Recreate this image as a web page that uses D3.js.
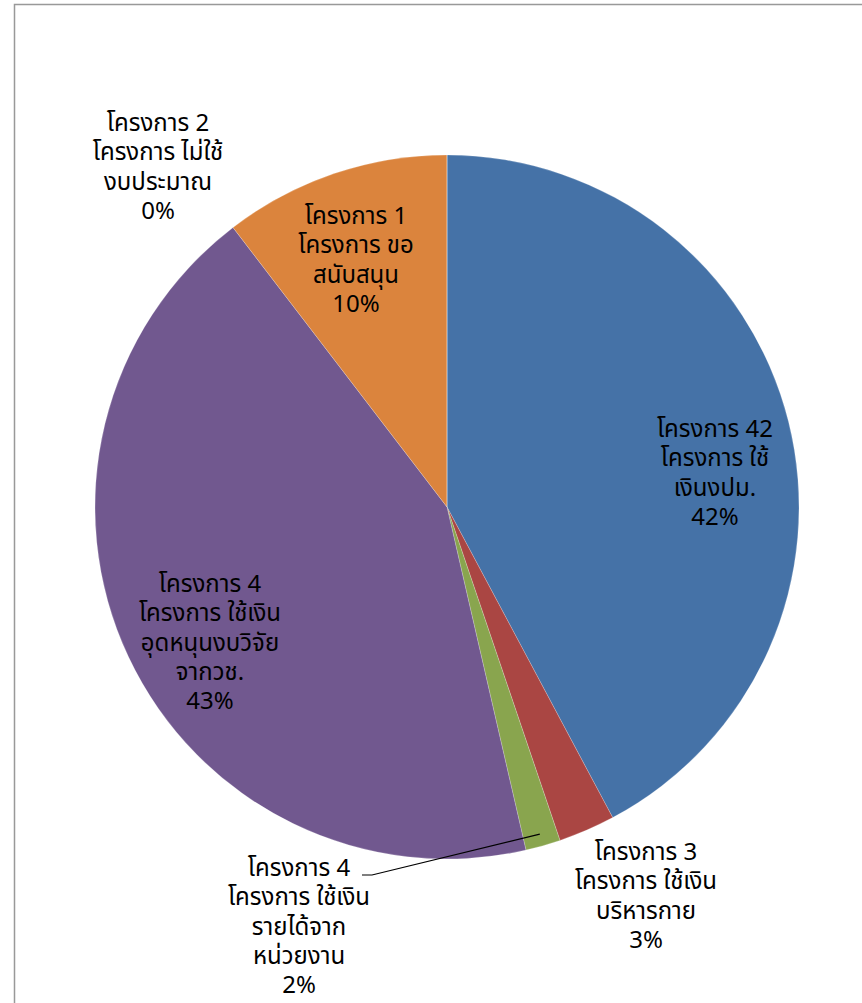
<!DOCTYPE html>
<html><head><meta charset="utf-8">
<script src="https://cdn.jsdelivr.net/npm/d3@7"></script>
<style>
html,body{margin:0;padding:0;background:#fff;}
svg{display:block;}
text{font-family:Tahoma,"Noto Sans Thai","Noto Sans","DejaVu Sans",sans-serif;font-size:24px;fill:#000;}
</style></head>
<body>
<svg id="chart" width="862" height="1003"></svg>
<script>
// Data
const names = ["โครงการ 42", "โครงการ 3", "โครงการ 4", "โครงการ 4", "โครงการ 1", "โครงการ 2"];
const categories = ["โครงการ ใช้เงินปม.", "โครงการ ใช้เงินบริหารกาย", "โครงการ ใช้เงินรายได้จากหน่วยงาน", "โครงการ ใช้เงินอุดหนุนงบวิจัยจากวช.", "โครงการ ขอสนับสนุน", "โครงการ ไม่ใช้งบประมาณ"];
const labelLines = [
  ["โครงการ 42", "โครงการ ใช้", "เงินงปม."],
  ["โครงการ 3", "โครงการ ใช้เงิน", "บริหารกาย"],
  ["โครงการ 4", "โครงการ ใช้เงิน", "รายได้จาก", "หน่วยงาน"],
  ["โครงการ 4", "โครงการ ใช้เงิน", "อุดหนุนงบวิจัย", "จากวช."],
  ["โครงการ 1", "โครงการ ขอ", "สนับสนุน"],
  ["โครงการ 2", "โครงการ ไม่ใช้", "งบประมาณ"]
];
const values = [42.2, 2.6, 1.6, 43.2, 10.4, 0];
const colors = ["#4572A7", "#AA4643", "#89A54E", "#71588F", "#DB843D", "#4198AF"];

// Layout constants (label anchor: centre x, first-line baseline)
const cx = 447, cy = 507, R = 352;
const labelAnchors = [[715, 437], [646, 860], [299, 876], [210, 592], [356, 224], [158, 131]];
const lineH = 29.3;

const svg = d3.select("#chart");
svg.append("rect").attr("x", 14.5).attr("y", 4.5).attr("width", 900).attr("height", 1100)
  .attr("fill", "#fff").attr("stroke", "#999").attr("stroke-width", 1.5);

const pie = d3.pie().sort(null).value(d => d)(values);
const arc = d3.arc().innerRadius(0).outerRadius(R);
const g = svg.append("g").attr("transform", `translate(${cx},${cy})`);
g.selectAll("path").data(pie).enter().append("path")
  .attr("d", arc).attr("fill", (d, i) => colors[i])
  .attr("stroke", "rgba(255,255,255,0.3)").attr("stroke-width", 0.7);

const total = d3.sum(values);
// leader line for small green slice
const gs = pie[2];
const mid = (gs.startAngle + gs.endAngle) / 2;
const p0 = [cx + Math.sin(mid) * (R - 12), cy - Math.cos(mid) * (R - 12)];
svg.append("polyline")
  .attr("points", `${p0[0]},${p0[1]} 372,875 362,875`)
  .attr("fill", "none").attr("stroke", "#000").attr("stroke-width", 1.2);

labelLines.forEach((lines, i) => {
  const all = lines.concat([Math.round(values[i] / total * 100) + "%"]);
  const t = svg.append("text").attr("text-anchor", "middle");
  all.forEach((l, j) => {
    t.append("tspan").attr("x", labelAnchors[i][0]).attr("y", labelAnchors[i][1] + j * lineH).text(l);
  });
});
</script>
</body></html>
